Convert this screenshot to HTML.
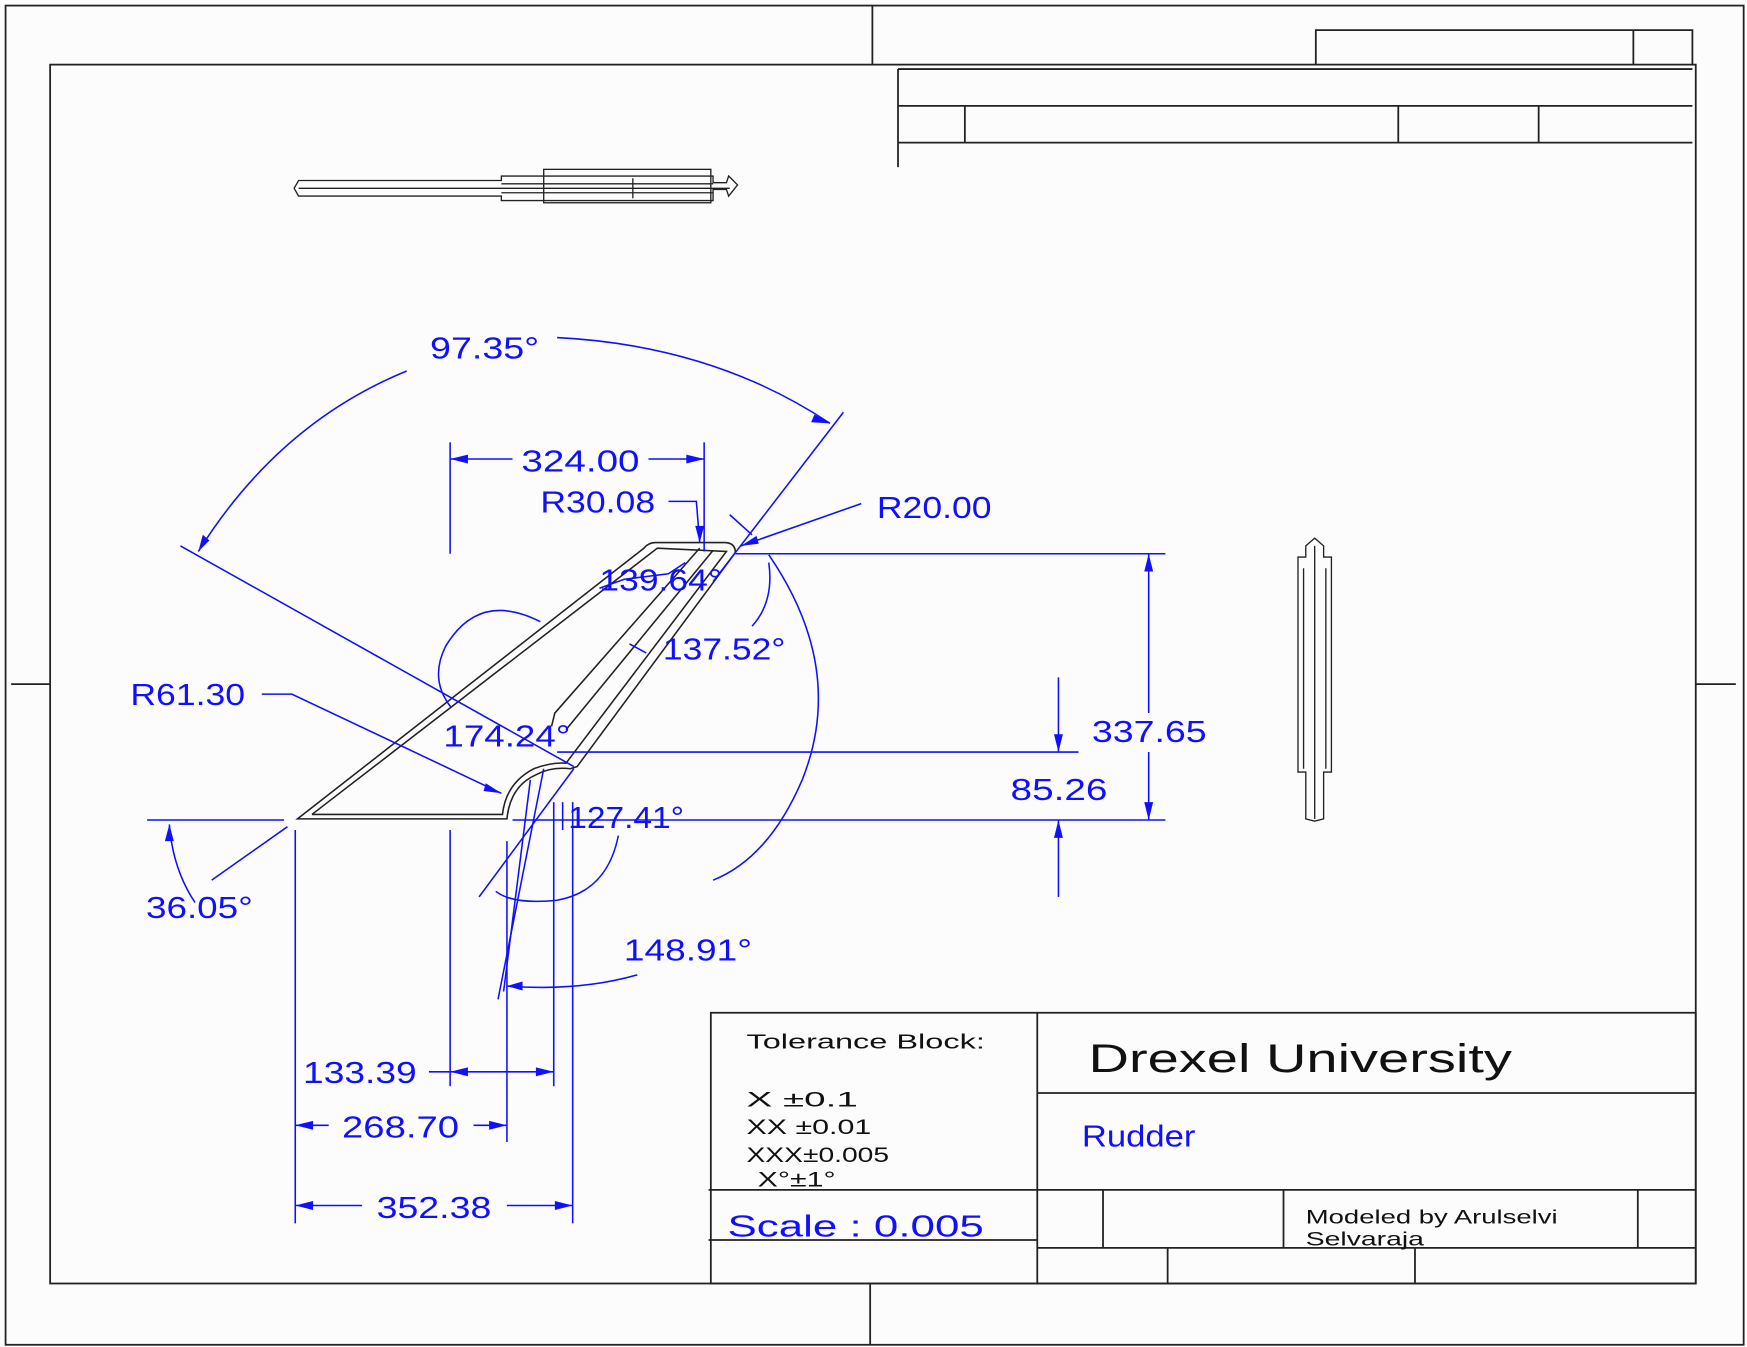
<!DOCTYPE html>
<html><head><meta charset="utf-8"><style>
html,body{margin:0;padding:0;background:#fcfcfc;}
svg{display:block;}
text{font-family:"Liberation Sans",sans-serif;}
.b{fill:#1010ff;font-size:27px;}
.k{fill:#111;}
</style></head><body>
<svg width="1747" height="1347" viewBox="0 0 1568 1209" preserveAspectRatio="none" xmlns="http://www.w3.org/2000/svg">
<rect x="0" y="0" width="1568" height="1209" fill="#fcfcfc"/>
<g stroke="#222" stroke-width="1.6" fill="none">
<rect x="5" y="5" width="1560" height="1202"/>
<rect x="45" y="58" width="1477" height="1094"/>
<line x1="783" y1="5" x2="783" y2="58"/><line x1="781" y1="1152" x2="781" y2="1207"/>
<line x1="10" y1="614" x2="45" y2="614"/><line x1="1522" y1="614" x2="1558" y2="614"/>
<polyline points="1181,58 1181,27 1519,27 1519,58"/><line x1="1466" y1="27" x2="1466" y2="58"/>
<line x1="806" y1="62" x2="806" y2="150"/><line x1="806" y1="62" x2="1519" y2="62"/>
<line x1="806" y1="95" x2="1519" y2="95"/><line x1="806" y1="128" x2="1519" y2="128"/>
<line x1="866" y1="95" x2="866" y2="128"/><line x1="1255" y1="95" x2="1255" y2="128"/><line x1="1381" y1="95" x2="1381" y2="128"/>
<rect x="638" y="909" width="884" height="243"/>
<line x1="931" y1="909" x2="931" y2="1152"/>
<line x1="931" y1="981" x2="1522" y2="981"/>
<line x1="636" y1="1068" x2="1522" y2="1068"/>
<line x1="636" y1="1113" x2="931" y2="1113"/>
<line x1="931" y1="1120" x2="1522" y2="1120"/>
<line x1="990" y1="1068" x2="990" y2="1120"/><line x1="1152" y1="1068" x2="1152" y2="1120"/><line x1="1470" y1="1068" x2="1470" y2="1120"/>
<line x1="1048" y1="1120" x2="1048" y2="1152"/><line x1="1270" y1="1120" x2="1270" y2="1152"/>
<!-- top view -->
<g stroke-width="1.2">
<path d="M268,162 L450,162 L450,158 L640,158 L640,164 L652,164 L654,158 L662,166 L654,176 L652,170 L640,170 L640,180 L450,180 L450,176 L268,176 L264,169 Z"/>
<line x1="268" y1="169" x2="655" y2="169"/>
<rect x="488" y="152" width="150" height="30"/>
<line x1="450" y1="165" x2="640" y2="165"/><line x1="450" y1="173" x2="640" y2="173"/>
<line x1="568" y1="160" x2="568" y2="178"/>
</g>
<!-- right view -->
<g stroke-width="1.2">
<path d="M1172,490 L1180,483 L1188,490 L1188,500 L1195,500 L1195,693 L1188,693 L1188,735 L1180,737 L1172,735 L1172,693 L1165,693 L1165,500 L1172,500 Z"/>
<line x1="1180" y1="490" x2="1180" y2="735"/><line x1="1170" y1="510" x2="1170" y2="690"/><line x1="1190" y1="510" x2="1190" y2="690"/>
</g>
<!-- main part outline -->
<g stroke-width="1.4">
<path d="M267,735 L455,735 Q458,705 482,695 Q495,688 512,690 L518,688 L660,496 Q660,487 650,487 L588,487 Q582,487 578,492 Z"/>
<path d="M280,731 L451,731 Q454,703 479,690 Q495,684 508,685 L652,495 L590,492 L280,731"/>
<path d="M495,652 L498,640 L628,492"/>
<path d="M508,655 L640,494"/>
</g>
</g>
<g stroke="#1010ff" stroke-width="1.4" fill="none">
<path d="M178,495 Q250,380 365,333"/><path d="M500,303 Q640,310 745,380"/>
<line x1="162" y1="490" x2="515" y2="688"/><line x1="757" y1="370" x2="640" y2="522"/>
<line x1="404" y1="397" x2="404" y2="497"/><line x1="632" y1="397" x2="632" y2="495"/>
<line x1="404" y1="412" x2="460" y2="412"/><line x1="582" y1="412" x2="632" y2="412"/>
<polyline points="600,450 625,450 628,487"/>
<line x1="773" y1="452" x2="665" y2="490"/>
<line x1="655" y1="462" x2="675" y2="480"/>
<path d="M690,505 Q695,540 675,562"/>
<path d="M690,498 Q760,600 720,700 Q690,770 640,790"/>
<path d="M572,875 Q520,890 455,885"/>
<path d="M485,558 Q430,530 400,580 Q385,610 405,635"/>
<line x1="565" y1="578" x2="580" y2="586"/>
<path d="M538,528 L560,520 L600,515 L615,505"/>
<polyline points="235,623 262,623 450,712"/>
<line x1="500" y1="675" x2="968" y2="675"/>
<line x1="132" y1="736" x2="255" y2="736"/><line x1="460" y1="736" x2="1046" y2="736"/>
<line x1="660" y1="497" x2="1046" y2="497"/>
<line x1="1031" y1="497" x2="1031" y2="640"/><line x1="1031" y1="675" x2="1031" y2="736"/>
<line x1="950" y1="608" x2="950" y2="675"/><line x1="950" y1="736" x2="950" y2="805"/>
<path d="M152,740 Q155,780 175,810"/><line x1="258" y1="742" x2="190" y2="790"/>
<path d="M555,750 Q545,800 500,808 Q460,812 445,800"/>
<line x1="430" y1="805" x2="515" y2="690"/><line x1="447" y1="897" x2="488" y2="690"/>
<line x1="452" y1="890" x2="476" y2="700"/>
<line x1="265" y1="745" x2="265" y2="1098"/><line x1="404" y1="745" x2="404" y2="975"/>
<line x1="455" y1="755" x2="455" y2="1025"/><line x1="497" y1="720" x2="497" y2="975"/>
<line x1="514" y1="720" x2="514" y2="1098"/><line x1="505" y1="720" x2="505" y2="745"/>
<line x1="385" y1="962" x2="497" y2="962"/>
<line x1="265" y1="1010" x2="295" y2="1010"/><line x1="425" y1="1010" x2="455" y2="1010"/>
<line x1="265" y1="1082" x2="325" y2="1082"/><line x1="455" y1="1082" x2="514" y2="1082"/>
</g>
<g fill="#1010ff">
<path d="M404,412 l16,-4 v8z M632,412 l-16,-4 v8z M404,962 l16,-4 v8z M497,962 l-16,-4 v8z M265,1010 l16,-4 v8z M455,1010 l-16,-4 v8z M265,1082 l16,-4 v8z M514,1082 l-16,-4 v8z M1031,497 l-4,16 h8z M1031,736 l-4,-16 h8z M950,675 l-4,-16 h8z M950,736 l-4,16 h8z M178,495 l4,-15 l6,5z M745,380 l-14,-8 l-3,7z M628,487 l-4,-15 h8z M665,490 l14,-9 l2,7z M450,712 l-14,-9 l-2,7z M455,885 l14,-4 v8z M152,740 l-4,15 h8z"/>
</g>
<g class="b">
<text x="386" y="322" textLength="98" lengthAdjust="spacingAndGlyphs">97.35°</text>
<text x="468" y="423" textLength="106" lengthAdjust="spacingAndGlyphs">324.00</text>
<text x="485" y="460" textLength="103" lengthAdjust="spacingAndGlyphs">R30.08</text>
<text x="787" y="465" textLength="103" lengthAdjust="spacingAndGlyphs">R20.00</text>
<text x="538" y="530" textLength="110" lengthAdjust="spacingAndGlyphs">139.64°</text>
<text x="595" y="592" textLength="110" lengthAdjust="spacingAndGlyphs">137.52°</text>
<text x="117" y="633" textLength="103" lengthAdjust="spacingAndGlyphs">R61.30</text>
<text x="398" y="670" textLength="114" lengthAdjust="spacingAndGlyphs">174.24°</text>
<text x="980" y="666" textLength="103" lengthAdjust="spacingAndGlyphs">337.65</text>
<text x="907" y="718" textLength="87" lengthAdjust="spacingAndGlyphs">85.26</text>
<text x="510" y="743" textLength="104" lengthAdjust="spacingAndGlyphs">127.41°</text>
<text x="131" y="824" textLength="96" lengthAdjust="spacingAndGlyphs">36.05°</text>
<text x="560" y="862" textLength="115" lengthAdjust="spacingAndGlyphs">148.91°</text>
<text x="272" y="972" textLength="102" lengthAdjust="spacingAndGlyphs">133.39</text>
<text x="307" y="1021" textLength="105" lengthAdjust="spacingAndGlyphs">268.70</text>
<text x="338" y="1093" textLength="103" lengthAdjust="spacingAndGlyphs">352.38</text>
<text x="971" y="1029" textLength="102" lengthAdjust="spacingAndGlyphs">Rudder</text>
<text x="653" y="1110" textLength="230" lengthAdjust="spacingAndGlyphs">Scale : 0.005</text>
</g>
<g class="k">
<text x="670" y="941" font-size="18" textLength="214" lengthAdjust="spacingAndGlyphs">Tolerance Block:</text>
<text x="670" y="993" font-size="19" textLength="100" lengthAdjust="spacingAndGlyphs">X  ±0.1</text>
<text x="670" y="1018" font-size="19" textLength="112" lengthAdjust="spacingAndGlyphs">XX ±0.01</text>
<text x="670" y="1043" font-size="19" textLength="128" lengthAdjust="spacingAndGlyphs">XXX±0.005</text>
<text x="680" y="1065" font-size="19" textLength="70" lengthAdjust="spacingAndGlyphs">X°±1°</text>
<text x="977" y="962" font-size="36" textLength="380" lengthAdjust="spacingAndGlyphs">Drexel University</text>
<text x="1172" y="1098" font-size="17" textLength="226" lengthAdjust="spacingAndGlyphs">Modeled by Arulselvi</text>
<text x="1172" y="1118" font-size="17" textLength="106" lengthAdjust="spacingAndGlyphs">Selvaraja</text>
</g>
</svg>
</body></html>
